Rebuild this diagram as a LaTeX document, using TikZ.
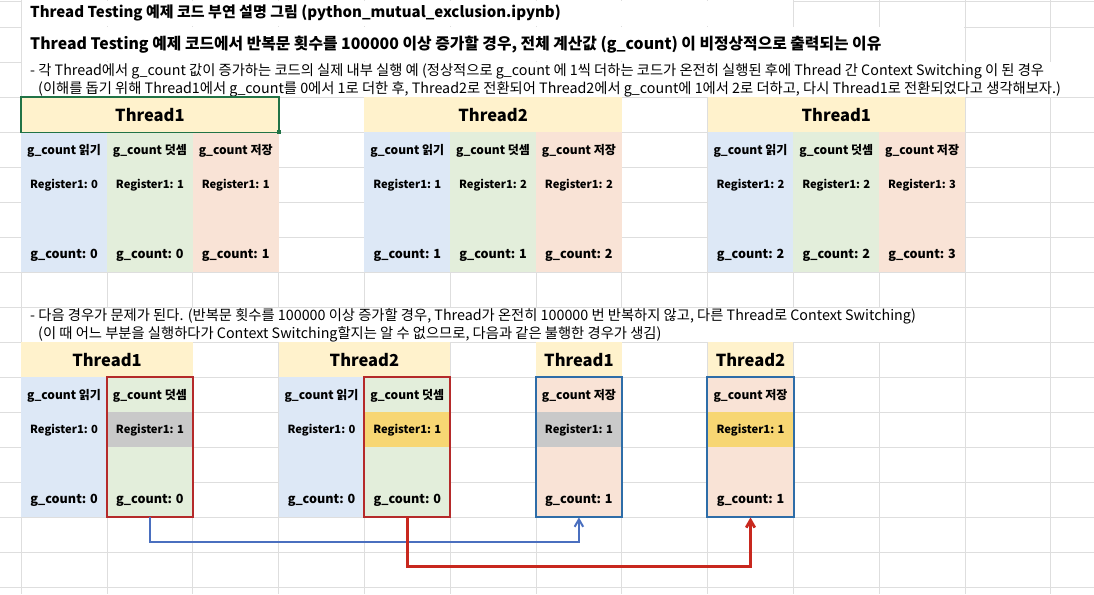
\documentclass[tikz,border=0pt]{standalone}
\usepackage{fontspec}
\setmainfont{Noto Sans CJK KR}
\usepackage{tikz}
\usetikzlibrary{arrows.meta}
\definecolor{sheetgrid}{HTML}{DEDEDE}
\definecolor{hdryellow}{HTML}{FFF2CC}
\definecolor{readblue}{HTML}{DDE8F6}
\definecolor{addgreen}{HTML}{E3EEDB}
\definecolor{storepeach}{HTML}{F9E3D6}
\definecolor{reggray}{HTML}{C9C9C9}
\definecolor{reggold}{HTML}{F7D673}
\definecolor{boxred}{HTML}{B52A2A}
\definecolor{boxblue}{HTML}{2E6DA8}
\definecolor{arrowblue}{HTML}{4A6FBF}
\definecolor{arrowred}{HTML}{C8281E}
\definecolor{selgreen}{HTML}{217346}

\begin{document}
\begin{tikzpicture}[x=1pt, y=-1pt,
  title/.style={anchor=west, inner sep=0pt, font=\bfseries\fontsize{15}{17}\selectfont},
  note/.style={anchor=west, inner sep=0pt, font=\fontsize{14.3}{16}\selectfont},
  head/.style={anchor=north west, fill=hdryellow, minimum height=35pt, inner sep=0pt, font=\bfseries\fontsize{16.5}{19}\selectfont},
  column/.style={anchor=north west, minimum width=85.8pt, minimum height=140pt, inner sep=0pt},
  regcell/.style={anchor=north west, minimum width=85.8pt, minimum height=35pt, inner sep=0pt},
  oplabel/.style={yshift=-18.5pt, font=\bfseries\fontsize{12}{14}\selectfont},
  reglabel/.style={yshift=-53.5pt, font=\bfseries\fontsize{11.2}{13}\selectfont},
  countlabel/.style={yshift=-123pt, font=\bfseries\fontsize{12.6}{15}\selectfont},
  redbox/.style={draw=boxred, line width=2pt},
  bluebox/.style={draw=boxblue, line width=2pt},
  arrow/.style={-{Straight Barb[length=2.6mm, width=3mm]}, line width=2pt}
]
\useasboundingbox[fill=white] (0,0) rectangle (1094,594);

% sheet grid
\foreach \y in {1,27,62,97,132,167,202,237,272,307,342,377,412,447,482,517,552,587}
  \draw[sheetgrid] (0,\y) -- (1094,\y);
\foreach \x in {21,106.8,192.6,278.4,364.2,450,535.8,621.6,707.4,793.2,879,964.8,1050.6}
  \draw[sheetgrid] (\x,0) -- (\x,594);
\fill[white] (21.5,1.5) rectangle (792.7,26.5);
\fill[white] (21.5,27.5) rectangle (964.3,61.5);
\fill[white] (21.5,62.5) rectangle (1094,96.5);
\fill[white] (21.5,307.5) rectangle (964.3,341.5);

% texts
\node[title] (sheettitle) at (30,13) {Thread Testing 예제 코드 부연 설명 그림 (python\_mutual\_exclusion.ipynb)};
\node[title, font=\bfseries\fontsize{15.8}{18}\selectfont] (reason) at (30,45) {Thread Testing 예제 코드에서 반복문 횟수를 100000 이상 증가할 경우, 전체 계산값 (g\_count) 이 비정상적으로 출력되는 이유};
\node[note] (normal1) at (30,71) {- 각 Thread에서 g\_count 값이 증가하는 코드의 실제 내부 실행 예 (정상적으로 g\_count 에 1씩 더하는 코드가 온전히 실행된 후에 Thread 간 Context Switching 이 된 경우};
\node[note] (normal2) at (38,89.5) {(이해를 돕기 위해 Thread1에서 g\_count를 0에서 1로 더한 후, Thread2로 전환되어 Thread2에서 g\_count에 1에서 2로 더하고, 다시 Thread1로 전환되었다고 생각해보자.)};
\node[note] (problem1) at (30,316) {- 다음 경우가 문제가 된다. (반복문 횟수를 100000 이상 증가할 경우, Thread가 온전히 100000 번 반복하지 않고, 다른 Thread로 Context Switching)};
\node[note] (problem2) at (38,334.5) {(이 때 어느 부분을 실행하다가 Context Switching할지는 알 수 없으므로, 다음과 같은 불행한 경우가 생김)};

% normal case
\node[head, minimum width=257.4pt] (t1head) at (21,97) {Thread1};
\node[head, minimum width=257.4pt] (t2head) at (364.2,97) {Thread2};
\node[head, minimum width=257.4pt] (t3head) at (707.4,97) {Thread1};
\node[column, fill=readblue] (t1read) at (21,132) {};
\node[column, fill=addgreen] (t1add) at (106.8,132) {};
\node[column, fill=storepeach] (t1store) at (192.6,132) {};
\node[column, fill=readblue] (t2read) at (364.2,132) {};
\node[column, fill=addgreen] (t2add) at (450,132) {};
\node[column, fill=storepeach] (t2store) at (535.8,132) {};
\node[column, fill=readblue] (t3read) at (707.4,132) {};
\node[column, fill=addgreen] (t3add) at (793.2,132) {};
\node[column, fill=storepeach] (t3store) at (879,132) {};

\node[oplabel] at (t1read.north) {g\_count 읽기};
\node[reglabel] at (t1read.north) {Register1: 0};
\node[countlabel] at (t1read.north) {g\_count: 0};
\node[oplabel] at (t1add.north) {g\_count 덧셈};
\node[reglabel] at (t1add.north) {Register1: 1};
\node[countlabel] at (t1add.north) {g\_count: 0};
\node[oplabel] at (t1store.north) {g\_count 저장};
\node[reglabel] at (t1store.north) {Register1: 1};
\node[countlabel] at (t1store.north) {g\_count: 1};

\node[oplabel] at (t2read.north) {g\_count 읽기};
\node[reglabel] at (t2read.north) {Register1: 1};
\node[countlabel] at (t2read.north) {g\_count: 1};
\node[oplabel] at (t2add.north) {g\_count 덧셈};
\node[reglabel] at (t2add.north) {Register1: 2};
\node[countlabel] at (t2add.north) {g\_count: 1};
\node[oplabel] at (t2store.north) {g\_count 저장};
\node[reglabel] at (t2store.north) {Register1: 2};
\node[countlabel] at (t2store.north) {g\_count: 2};

\node[oplabel] at (t3read.north) {g\_count 읽기};
\node[reglabel] at (t3read.north) {Register1: 2};
\node[countlabel] at (t3read.north) {g\_count: 2};
\node[oplabel] at (t3add.north) {g\_count 덧셈};
\node[reglabel] at (t3add.north) {Register1: 2};
\node[countlabel] at (t3add.north) {g\_count: 2};
\node[oplabel] at (t3store.north) {g\_count 저장};
\node[reglabel] at (t3store.north) {Register1: 3};
\node[countlabel] at (t3store.north) {g\_count: 3};

\draw[selgreen, line width=1.5pt] (t1head.north west) rectangle (t1head.south east);
\fill[selgreen] ([xshift=-2pt, yshift=-2pt]t1head.south east) rectangle ([xshift=2pt, yshift=2pt]t1head.south east);

% broken case
\node[head, minimum width=171.6pt] (b1head) at (21,342) {Thread1};
\node[head, minimum width=171.6pt] (b2head) at (278.4,342) {Thread2};
\node[head, minimum width=85.8pt] (b3head) at (535.8,342) {Thread1};
\node[head, minimum width=85.8pt] (b4head) at (707.4,342) {Thread2};
\node[column, fill=readblue] (b1read) at (21,377) {};
\node[column, fill=addgreen] (b1add) at (106.8,377) {};
\node[column, fill=readblue] (b2read) at (278.4,377) {};
\node[column, fill=addgreen] (b2add) at (364.2,377) {};
\node[column, fill=storepeach] (b3store) at (535.8,377) {};
\node[column, fill=storepeach] (b4store) at (707.4,377) {};
\node[regcell, fill=reggray] (b1reg) at (106.8,412) {};
\node[regcell, fill=reggold] (b2reg) at (364.2,412) {};
\node[regcell, fill=reggray] (b3reg) at (535.8,412) {};
\node[regcell, fill=reggold] (b4reg) at (707.4,412) {};

\node[oplabel] at (b1read.north) {g\_count 읽기};
\node[reglabel] at (b1read.north) {Register1: 0};
\node[countlabel] at (b1read.north) {g\_count: 0};
\node[oplabel] at (b1add.north) {g\_count 덧셈};
\node[reglabel] at (b1add.north) {Register1: 1};
\node[countlabel] at (b1add.north) {g\_count: 0};
\node[oplabel] at (b2read.north) {g\_count 읽기};
\node[reglabel] at (b2read.north) {Register1: 0};
\node[countlabel] at (b2read.north) {g\_count: 0};
\node[oplabel] at (b2add.north) {g\_count 덧셈};
\node[reglabel] at (b2add.north) {Register1: 1};
\node[countlabel] at (b2add.north) {g\_count: 0};
\node[oplabel] at (b3store.north) {g\_count 저장};
\node[reglabel] at (b3store.north) {Register1: 1};
\node[countlabel] at (b3store.north) {g\_count: 1};
\node[oplabel] at (b4store.north) {g\_count 저장};
\node[reglabel] at (b4store.north) {Register1: 1};
\node[countlabel] at (b4store.north) {g\_count: 1};

\draw[redbox] (b1add.north west) rectangle (b1add.south east);
\draw[redbox] (b2add.north west) rectangle (b2add.south east);
\draw[bluebox] (b3store.north west) rectangle (b3store.south east);
\draw[bluebox] (b4store.north west) rectangle (b4store.south east);

\draw[arrow, arrowblue] (b1add.south) -- ++(0,25) -| (b3store.south);
\draw[arrow, arrowred, line width=2.8pt] (b2add.south) -- ++(0,49) -| (b4store.south);
\end{tikzpicture}
\end{document}
